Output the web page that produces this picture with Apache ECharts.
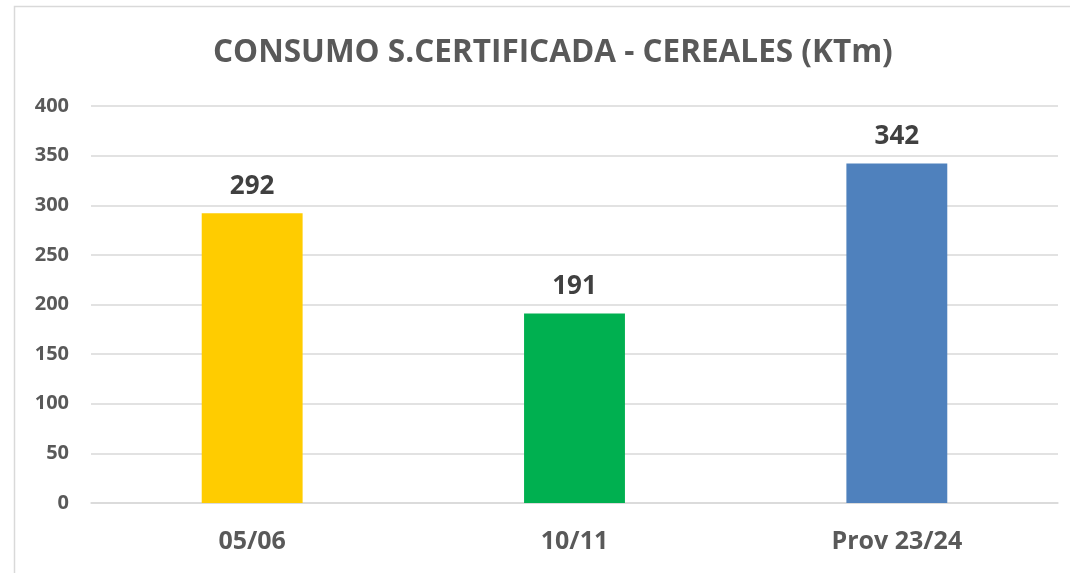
<!DOCTYPE html>
<html><head><meta charset="utf-8">
<script src="https://cdn.jsdelivr.net/npm/echarts@6/dist/echarts.min.js"></script>
<style>html,body{margin:0;padding:0;background:#fff}#c{width:1070px;height:573px}</style>
</head><body><div id="c"></div>
<script>
const categories = ['05/06', '10/11', 'Prov 23/24'];
const values = [292, 191, 342];
const barColors = ['#FFCC00', '#00B050', '#4F81BD'];
const titleText = 'CONSUMO S.CERTIFICADA - CEREALES (KTm)';

const chart = echarts.init(document.getElementById('c'), null, {renderer: 'canvas'});
const FONT = 'Open Sans';
chart.setOption({
  animation: false,
  backgroundColor: '#fff',
  graphic: [{
    type: 'rect', shape: {x: 14.5, y: 6.5, width: 1200, height: 700},
    style: {fill: 'none', stroke: '#D9D9D9', lineWidth: 1.5}, silent: true
  }],
  title: {
    text: titleText, left: 208, top: 32,
    textStyle: {fontFamily: FONT, fontWeight: 'bold', fontSize: 31.5, color: '#595959'}
  },
  grid: {left: 91, right: 12, top: 106, bottom: 70, containLabel: false},
  xAxis: {
    type: 'category', data: categories,
    axisLine: {show: true, lineStyle: {color: '#D9D9D9', width: 1.5}},
    axisTick: {show: false},
    axisLabel: {fontFamily: FONT, fontWeight: 'bold', fontSize: 25, color: '#595959', margin: 26}
  },
  yAxis: {
    type: 'value', min: 0, max: 400, interval: 50,
    axisLine: {show: false}, axisTick: {show: false},
    splitLine: {lineStyle: {color: '#D9D9D9', width: 1.5}},
    axisLabel: {fontFamily: FONT, fontWeight: 'bold', fontSize: 20, color: '#595959', margin: 22}
  },
  series: [{
    type: 'bar',
    data: values.map((v, i) => ({value: v, itemStyle: {color: barColors[i]}})),
    barWidth: '31.3%',
    label: {show: true, position: 'top', distance: 14,
      fontFamily: FONT, fontWeight: 'bold', fontSize: 26, color: '#404040'}
  }]
});
</script></body></html>
